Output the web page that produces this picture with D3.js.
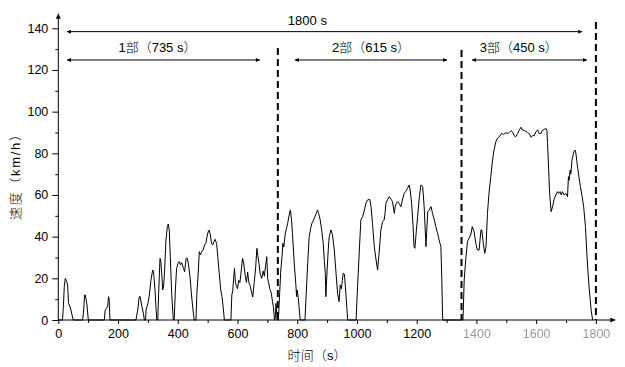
<!DOCTYPE html>
<html><head><meta charset="utf-8">
<script src="https://cdn.jsdelivr.net/npm/d3@7"></script>
<style>body{margin:0;background:#fff}svg{display:block}</style>
</head><body><svg id="c" width="625" height="367"></svg>
<script>
const timeS=[0,14,17,20,23.5,28,31,34.5,39,42.5,46,50,81.5,85,88,90,92.5,96,100.5,154,157,162,166,168,170,173,260,266,271,274,280,285,288,292,294,297,300,305,310,316,319,324,327,330,333,336,340.5,343,347,349.5,353,356,360.5,365,368,371.5,375,379.5,383,385,388,392,396,401,405,409,413,419,423,428,432,436,441,446,451,455,461,464,469,472,476,480,485,490,494,499,503,505,509,513,517,521,525,530,534,539,544,548,553,556,578,581,584,587,590,593,597,600,604,608,612,617,621,626,630,634,638,642,646,651,656,661,665,668,672,676,681,686,690,694,698,701,704,708,713,717,720,724,726,729,733,737,740,745,749,752,755,760,764,768,773,777,781,784,790,795,798,800,803,806,810,826,829,835,840,845,849,853,857,863,868,872,877,882,887,891,894,896,900,904,907,913,918,924,930,935,940,944,948,951,954,958,962,966,969,997,1002,1008,1013,1019,1025,1030,1035,1043,1047,1052,1058,1064,1069,1075,1080,1086,1091,1094,1097,1102,1108,1114,1119,1125,1128,1132,1136,1141,1147,1152,1158,1163,1169,1175,1178,1183,1188,1191,1194,1199,1203,1209,1214,1220,1225,1231,1237,1242,1248,1253,1259,1264,1270,1275,1281,1284,1287,1355,1359,1365,1370,1375,1381,1386,1392,1398,1403,1409,1415,1418,1423,1428,1432,1437,1442,1448,1454,1459,1465,1470,1477,1484,1490,1495,1499,1505,1510,1516,1521,1526,1532,1538,1543,1549,1554,1560,1566,1571,1577,1583,1588,1594,1599,1605,1610,1616,1621,1627,1633,1636,1638,1642,1645,1650,1655,1661,1666,1672,1675,1680,1684,1688,1694,1699,1705,1708,1710,1714,1716,1720,1726,1730,1733,1737,1743,1748,1754,1759,1765,1769,1773,1778,1784,1789];
const speedKmh=[0,0,6.4,16,20,18.4,16.8,8,6.4,4.8,2.4,0,0,4.8,12,12,10.4,7.2,0,0,4.8,5.6,7.2,11.2,10.5,0,0,4.8,11.2,11.2,6.4,3.2,0,0,5,6.4,8,12,19,24,23,14,6,0,0,12.8,29.6,28.8,20.8,14.4,16.8,24,38.4,44.8,46,43.2,30.4,12.8,4.8,0,0,14.4,24.8,27.2,28,26.5,27.5,24.8,23.2,29.6,29.6,26.4,20.8,12,4.8,0,0,12.8,24,32.8,31.2,32.8,33.6,36,36.8,40.8,42.9,43.2,40.8,36.8,36,37.6,38.7,36.8,30.4,22.4,14.4,11.2,4.8,0,0,12,14,20,24.8,18,16,15,19,18,23,29.6,27,21,18,23,18,16.5,14,11,18,25.6,34.4,31,27,22,20,23.5,21,26,30.4,20,18,15,13,9,6.4,0,0,8,0,0,9.6,24,30.4,36.8,35,41.6,44,46.4,50.4,52.8,48,41.6,27.2,17.6,11.2,14.4,11,6.4,0,0,9.6,27.2,40,44,46.4,47.5,48.8,51,52.8,51,48,43,36.8,28,22.4,11.2,24,34,40,43.2,41,33.6,22.4,12.8,8.8,16.8,15,19,22.4,22,14.4,6,0,0,16,33.6,48,49.6,52.8,56,57.6,57.9,54.4,46.4,35.2,28.8,24,33.6,43.2,47.2,48,51.2,56,57.6,59.2,58,56.8,51.2,54.4,56,56.8,56,54.4,57.6,60.8,61.6,63.2,64.8,62.4,56,44.8,35.2,34.4,43.2,49.6,59.2,64.8,64,54.4,35.2,52,52.8,54.4,51.2,48,44.8,41.6,38.4,35.2,20,0,0,19.2,30.4,37.6,39.2,40.8,44.8,42.4,36.8,33.6,33.6,43.2,43.2,36.8,32,35.2,51.2,60.8,68.8,76.8,81.6,85.6,87.2,88,89.6,89,89.5,89.9,89.5,90,90.9,90.2,88.5,88,89.5,91,92.5,91.2,91,90.4,90,89.5,87.7,88.5,88.5,90.4,91.2,89.5,89.5,91,91.5,91.9,91,84.8,72,60.8,52,54.4,58.4,60,61.6,60.8,61.6,60,61.6,60,60.8,59.2,68.8,67,72,70,76.8,80.8,81.6,80,75.2,68.8,64,59.2,54.4,44.8,33.6,24,14.4,4.8,0];
const xTickValues=[0,200,400,600,800,1000,1200,1400,1600,1800];
const xMinorValues=[100,300,500,700,900,1100,1300,1500,1700];
const yTickValues=[0,20,40,60,80,100,120,140];
const yMinorValues=[10,30,50,70,90,110,130];
const fadedXTicks=[1400,1600,1800];
const dividerTimes=[735,1350,1800];
const dividerTops=[130.5,129.6,143];
const spanLabels=["1800 s","1部（735 s）","2部（615 s）","3部（450 s）"];
const spanStarts=[29,29,792,1385];
const spanEnds=[1754,675,1302,1770];
const spanLevels=[138.4,124.8,124.8,124.8];
const spanLabelTimes=[834,332,1047,1542];
const spanLabelLevels=[141.6,128.6,128.6,128.6];
const xTitle="时间（s）", yTitle="速度（km/h）";

const svg=d3.select("#c");
const x=d3.scaleLinear().domain([0,1800]).range([58.3,595.9]);
const y=d3.scaleLinear().domain([0,140]).range([320,28.3]);
const tickFont='"Liberation Sans Narrow","Liberation Sans",sans-serif';
const cjkFont='"Liberation Sans","Noto Sans CJK SC",sans-serif';

const defs=svg.append("defs");
defs.append("marker").attr("id","ah").attr("viewBox","0 0 10 10").attr("refX",10).attr("refY",5)
 .attr("markerWidth",7).attr("markerHeight",4).attr("markerUnits","userSpaceOnUse").attr("orient","auto-start-reverse")
 .append("path").attr("d","M0,0L10,5L0,10Z").attr("fill","#000");
defs.append("marker").attr("id","ax").attr("viewBox","0 0 10 10").attr("refX",10).attr("refY",5)
 .attr("markerWidth",7).attr("markerHeight",5).attr("markerUnits","userSpaceOnUse").attr("orient","auto")
 .append("path").attr("d","M0,0L10,5L0,10Z").attr("fill","#000");
defs.append("filter").attr("id","wm").append("feGaussianBlur").attr("stdDeviation",0.7);

// axes
const gx=svg.append("g").attr("transform",`translate(0,${y(0)})`)
 .call(d3.axisBottom(x).tickValues(xTickValues).tickSize(4).tickPadding(5).tickFormat(d3.format("d")));
gx.select(".domain").remove();
gx.selectAll("text").attr("font-family",tickFont).attr("font-size",12.5).attr("fill","#000");
gx.selectAll(".tick").filter(d=>fadedXTicks.includes(d)).select("text").attr("fill","#999").attr("filter","url(#wm)");
const gxm=svg.append("g").attr("transform",`translate(0,${y(0)})`)
 .call(d3.axisBottom(x).tickValues(xMinorValues).tickSize(3).tickFormat(""));
gxm.select(".domain").remove();

const gy=svg.append("g").attr("transform",`translate(${x(0)},0)`)
 .call(d3.axisLeft(y).tickValues(yTickValues).tickSize(6).tickPadding(4).tickFormat(d3.format("d")));
gy.select(".domain").remove();
gy.selectAll("text").attr("font-family",tickFont).attr("font-size",12.5).attr("fill","#000");
const gym=svg.append("g").attr("transform",`translate(${x(0)},0)`)
 .call(d3.axisLeft(y).tickValues(yMinorValues).tickSize(3).tickFormat(""));
gym.select(".domain").remove();

svg.append("line").attr("x1",x(0)).attr("x2",x(0)).attr("y1",y(0)).attr("y2",y(147))
 .attr("stroke","#000").attr("marker-end","url(#ax)");
svg.append("line").attr("x1",x(0)).attr("x2",x(1865)).attr("y1",y(0)).attr("y2",y(0))
 .attr("stroke","#000").attr("marker-end","url(#ax)");

// speed line
const pts=timeS.map((t,i)=>[t,speedKmh[i]]);
svg.append("path").datum(pts).attr("fill","none").attr("stroke","#000").attr("stroke-width",1)
 .attr("stroke-linejoin","round")
 .attr("d",d3.line().x(d=>x(d[0])).y(d=>y(d[1])));

// dividers
dividerTimes.forEach((t,i)=>{
 svg.append("line").attr("x1",x(t)).attr("x2",x(t)).attr("y1",y(dividerTops[i])).attr("y2",y(0))
  .attr("stroke","#000").attr("stroke-width",2).attr("stroke-dasharray","7,4");
});

// spans
spanLabels.forEach((lab,i)=>{
 svg.append("line").attr("x1",x(spanStarts[i])).attr("x2",x(spanEnds[i]))
  .attr("y1",y(spanLevels[i])).attr("y2",y(spanLevels[i])).attr("stroke","#000").attr("stroke-width",1)
  .attr("marker-start","url(#ah)").attr("marker-end","url(#ah)");
 svg.append("text").attr("x",x(spanLabelTimes[i])).attr("y",y(spanLabelLevels[i]))
  .attr("text-anchor","middle").attr("font-family",cjkFont).attr("font-size",13).attr("font-weight",300).text(lab);
});

// titles
svg.append("text").attr("x",317).attr("y",360).attr("text-anchor","middle")
 .attr("font-family",cjkFont).attr("font-size",13).attr("font-weight",300)
 .attr("textLength",59).attr("lengthAdjust","spacing").text(xTitle);
svg.append("text").attr("transform","translate(20,174) rotate(-90)").attr("text-anchor","middle")
 .attr("font-family",cjkFont).attr("font-size",13).attr("font-weight",300)
 .attr("textLength",92).attr("lengthAdjust","spacing").text(yTitle);
</script></body></html>
